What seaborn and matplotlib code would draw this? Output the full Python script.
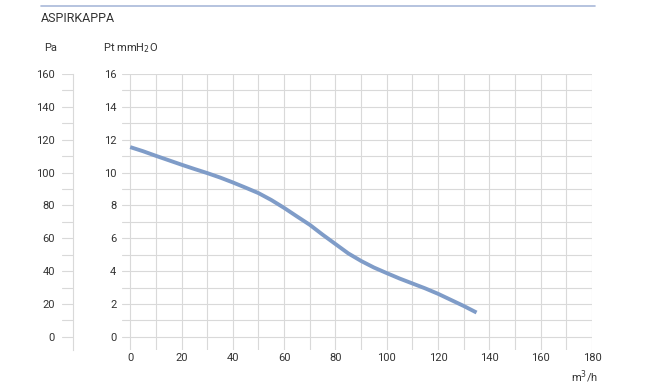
import matplotlib
matplotlib.use("Agg")
import matplotlib.pyplot as plt
import seaborn as sns
import pandas as pd
from matplotlib.lines import Line2D

# Values (m3/h vs mmH2O)
flow = [0, 5, 10, 15, 20, 25, 30, 35, 40, 45, 50, 55, 60, 65, 70,
        75, 80, 85, 90, 95, 100, 105, 110, 115, 120, 125, 130, 135]
pressure = [11.55, 11.3, 11.02, 10.75, 10.48, 10.22, 9.97, 9.7, 9.4, 9.08, 8.75, 8.33, 7.85, 7.33, 6.82,
            6.22, 5.65, 5.08, 4.62, 4.22, 3.88, 3.55, 3.25, 2.95, 2.62, 2.25, 1.88, 1.48]

x_labels = list(range(0, 181, 20))
mm_labels = list(range(0, 17, 2))
pa_labels = list(range(0, 161, 20))

sns.set_style("white")
plt.rcParams["font.family"] = ["Roboto", "DejaVu Sans"]

W, H = 657, 390
fig = plt.figure(figsize=(W / 100, H / 100), dpi=100)

text_col = "#333333"
grid_col = "#d9d9d9"

# main axes (mmH2O)
ax = fig.add_axes([122 / W, 1 - 350 / H, 470 / W, 276 / H])
df = pd.DataFrame({"flow": flow, "pressure": pressure})
sns.lineplot(data=df, x="flow", y="pressure", ax=ax, color="#7f9cc8",
             linewidth=2.8, solid_capstyle="butt", solid_joinstyle="round")
ax.set_xlim(-3.2, 180)
ax.set_ylim(-0.8, 16)
ax.set_xticks(range(0, 181, 10))
ax.set_xticklabels([str(v) if v in x_labels else "" for v in range(0, 181, 10)])
ax.set_yticks(range(0, 17))
ax.set_yticklabels([str(v) if v in mm_labels else "" for v in range(0, 17)])
ax.grid(True, color=grid_col, linewidth=0.8)
for s in ax.spines.values():
    s.set_visible(False)
ax.tick_params(axis="both", length=0, labelsize=8, colors=text_col)
ax.tick_params(axis="y", pad=4)
ax.tick_params(axis="x", pad=2)
ax.set_xlabel("")
ax.set_ylabel("")

# Pa scale on the left
ax2 = fig.add_axes([62 / W, 1 - 350 / H, 11 / W, 276 / H])
ax2.set_xlim(0, 1)
ax2.set_ylim(-8, 160)
ax2.set_xticks([])
ax2.set_yticks(pa_labels)
ax2.set_yticks(range(10, 161, 20), minor=True)
ax2.grid(True, which="both", axis="y", color=grid_col, linewidth=0.8)
for s in ax2.spines.values():
    s.set_visible(False)
ax2.spines["right"].set_visible(True)
ax2.spines["right"].set_color(grid_col)
ax2.spines["right"].set_linewidth(0.8)
ax2.tick_params(axis="y", which="both", length=0, labelsize=8, colors=text_col, pad=5)

# header and unit labels
fig.add_artist(Line2D([41 / W, 595 / W], [1 - 6 / H, 1 - 6 / H], color="#a9b9d9", linewidth=1.2))
fig.text(41 / W, 1 - 18 / H, "ASPIRKAPPA", fontsize=9, color=text_col, va="center", ha="left")
fig.text(44 / W, 1 - 48 / H, "Pa", fontsize=8, color=text_col, va="center", ha="left")
fig.text(103 / W, 1 - 48 / H, "Pt mmH$_2$O", fontsize=8, color=text_col, va="center", ha="left")
fig.text(598 / W, 1 - 377 / H, "m$^3$/h", fontsize=8, color=text_col, va="center", ha="right")

fig.savefig("out.png", dpi=100, facecolor="white")
